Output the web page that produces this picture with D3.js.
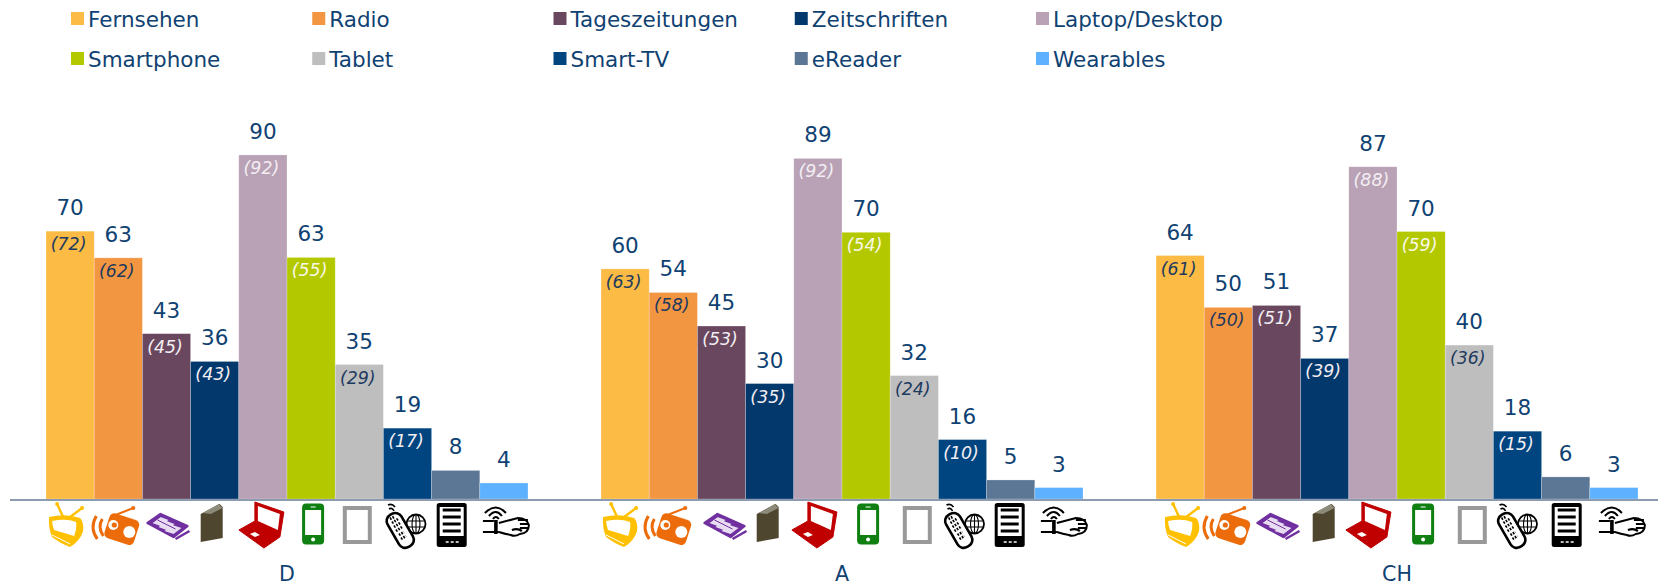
<!DOCTYPE html>
<html><head><meta charset="utf-8">
<script src="https://cdnjs.cloudflare.com/ajax/libs/d3/7.8.5/d3.min.js"></script>
<style>html,body{margin:0;padding:0;background:#fff;overflow:hidden}svg{display:block}text{font-family:"DejaVu Sans",sans-serif}</style>
</head><body><div id="c"></div>
<script>
const media = ["Fernsehen","Radio","Tageszeitungen","Zeitschriften","Laptop/Desktop","Smartphone","Tablet","Smart-TV","eReader","Wearables"];
const colors = ["#fbbb45","#f39642","#69475e","#02386b","#b9a1b6","#b4c800","#bebebe","#004580","#5c7695","#5eb1ff"];
const countries = ["D","A","CH"];
const valuesD  = [70.3,63.3,43.4,36.1,90.3,63.4,35.3,18.6,7.5,4.2];
const valuesA  = [60.4,54.2,45.4,30.3,89.4,70.0,32.4,15.6,5.0,3.0];
const valuesCH = [63.9,50.3,50.8,36.9,87.2,70.2,40.4,17.8,5.8,3.0];
const previousD  = [72,62,45,43,92,55,29,17,null,null];
const previousA  = [63,58,53,35,92,54,24,10,null,null];
const previousCH = [61,50,51,39,88,59,36,15,null,null];
const previousInk = ["#1d3a5f","#1d3a5f","#f3eef2","#f3eef2","#f3eef2","#f8f8e8","#1d3a5f","#f3eef2",null,null];

const W=1658,H=586,baseY=499,unit=3.81;
const svg=d3.select("#c").append("svg").attr("width",W).attr("height",H);
const ink="#0f4272";

// Legend
const legendX=d3.scalePoint().domain(d3.range(5)).range([71,1036]);
const legend=svg.append("g").selectAll("g").data(media).join("g")
  .attr("transform",(d,i)=>`translate(${legendX(i%5)},${i<5?12:52})`);
legend.append("rect").attr("width",13).attr("height",13).attr("fill",(d,i)=>colors[i]);
legend.append("text").attr("x",17).attr("y",14.5).attr("font-size",21.5).attr("fill",ink).text(d=>d);

// Scales
const y=d3.scaleLinear().domain([0,100]).range([baseY,baseY-100*unit]);
const groupX=d3.scalePoint().domain(countries).range([46,1156]);
const barX=d3.scaleBand().domain(media).range([0,482]);
const groups=[valuesD,valuesA,valuesCH].map((v,k)=>({c:countries[k],v,p:[previousD,previousA,previousCH][k]}));

const g=svg.selectAll("g.grp").data(groups).join("g").attr("class","grp")
  .attr("transform",d=>`translate(${groupX(d.c)},0)`);
const row=d=>media.map((m,i)=>({m,i,v:d.v[i],p:d.p[i]}));
g.selectAll("rect").data(row).join("rect")
  .attr("x",d=>barX(d.m)).attr("y",d=>y(d.v)).attr("width",barX.bandwidth()).attr("height",d=>baseY-y(d.v))
  .attr("fill",d=>colors[d.i]).attr("stroke","#fff").attr("stroke-opacity",.35).attr("stroke-width",.7);
g.selectAll("text.v").data(row).join("text").attr("class","v")
  .attr("x",d=>barX(d.m)+barX.bandwidth()/2).attr("y",d=>y(d.v)-16).attr("text-anchor","middle")
  .attr("font-size",21.5).attr("fill",ink).text(d=>Math.round(d.v));
g.selectAll("text.p").data(d=>row(d).filter(r=>r.p!=null)).join("text").attr("class","p")
  .attr("x",d=>barX(d.m)+barX.bandwidth()/2-1.5).attr("y",d=>y(d.v)+19).attr("text-anchor","middle")
  .attr("font-size",17.4).attr("font-style","italic").attr("fill",d=>previousInk[d.i]).text(d=>`(${d.p})`);

// Baseline
svg.append("rect").attr("x",10).attr("y",baseY).attr("width",W-10).attr("height",2).attr("fill","#8d9bb0");

// Group labels
g.append("text").attr("x",241).attr("y",581).attr("text-anchor","middle").attr("font-size",20.6).attr("fill",ink).text(d=>d.c);

// Pictograms (glyph art in a local frame centred on the icon)
const glyphs=[
 `<g fill="#ffc000"><path d="M-3,-8L-9,-21M4,-8L16,-17" stroke="#ffc000" stroke-width="2.4" fill="none"/><circle cx="-9" cy="-21" r="2"/><circle cx="16" cy="-17" r="2"/>
  <path d="M-17,-8Q0,-12 14,-7Q18,-3 17,6Q14,16 4,22Q-5,19 -14,12Q-18,3 -17,-8Z"/><path fill="#fff" d="M-14,-4Q0,-7 10,-3Q11,3 8,11L-12,5Q-14,0 -14,-4Z"/><path d="M-14,10L4,19" stroke="#fff" stroke-width="1" fill="none"/></g>`,
 `<g><path d="M-13,-6Q-18,2 -12,11M-19,-9Q-26,3 -18,14" stroke="#ec6c0c" stroke-width="3" fill="none"/><path d="M-5,-8L18,-17" stroke="#ec6c0c" stroke-width="2"/><circle cx="18" cy="-17" r="2" fill="#ec6c0c"/>
  <rect x="-9" y="-9" width="31" height="26" rx="5" transform="rotate(18 6 4)" fill="#ec6c0c"/><circle cx="-2" cy="0" r="5" fill="#fff"/><circle cx="14" cy="7" r="6" fill="#fff"/><circle cx="-1" cy="0" r="2.6" fill="#ec6c0c"/></g>`,
 `<g><path d="M8,14L22,6" stroke="#7030a0" stroke-width="2.4" fill="none"/><path d="M-20,-2L-7,-11L20,1L6,12Z" fill="#7030a0" stroke="#7030a0" stroke-width="2.4" stroke-linejoin="round"/>
  <path d="M-15,-2L-7,-8L1,-5L-7,1ZM-9,2L-1,-4L7,-1L-1,5ZM-3,6L5,0L14,3L6,9Z" fill="#e8dcf2"/><path d="M-2,-9L15,-1M-10,-5L8,4M-6,-9L-16,-2" stroke="#7030a0" stroke-width="1"/></g>`,
 `<g><path d="M-11,-9L8,-19L11,-16L11,15L-11,19Z" fill="#4f4630"/><path d="M-9,-10L7,-19L11,-15L-1,-9Z" fill="#8c8a78"/></g>`,
 `<g fill="#c00000"><path d="M-6,-23L23,-13L19,12L3,23L-22,5L-6,-4Z" stroke="#c00000" stroke-width="1" stroke-linejoin="round"/><path fill="#fff" d="M-3,-19L19,-11L17,5L-3,-4Z"/><path fill="#fff" d="M-11,9L-6,7L-1,10L-6,12Z"/></g>`,
 `<g><rect x="-11" y="-20.5" width="22" height="41" rx="4" fill="#0f7f12"/><rect x="-8" y="-14" width="16" height="25" fill="#fff"/><circle cy="15.5" r="2" fill="#fff"/><rect x="-2.5" y="-17.5" width="5" height="1" fill="#fff"/></g>`,
 `<rect x="-12.5" y="-17" width="25" height="34" fill="#fff" stroke="#999" stroke-width="4"/>`,
 `<g fill="none" stroke="#000"><path d="M-17,-20Q-13,-22 -10,-18M-16,-16Q-13,-18 -11,-14" stroke-width="1.6"/>
  <circle cx="11" cy="-1" r="9.5" fill="#fff" stroke-width="1.8"/><ellipse cx="11" cy="-1" rx="4" ry="9.5" stroke-width="1.1"/><path d="M2,-4H20M2,2H20M11,-10V8" stroke-width="1.1"/>
  <rect x="-13" y="-13" width="16" height="37" rx="7" transform="rotate(-30 -5 5)" fill="#fff" stroke-width="2.6"/>
  <path d="M-15,-6L-11,-8M-13,-2L-7,-6M-11,2L-5,-2M-9,6L-3,2M-6,10L-1,7M-4,14L1,11" stroke-width="2.6" stroke-dasharray="1.6 1.2"/></g>`,
 `<g><rect x="-15" y="-22" width="30" height="44" rx="2.5" fill="#000"/><rect x="-12" y="-18" width="24" height="29" fill="#fff"/><path d="M-9,-15H9M-9,-8H9M-9,-1H9M-9,6H9" stroke="#000" stroke-width="3"/><path d="M-6,17H-3M-1,17H2M4,17H7" stroke="#fff" stroke-width="1.6"/></g>`,
 `<g fill="none" stroke="#000"><path d="M-21,-8Q-10,-19 0,-8M-17,-5Q-10,-13 -4,-5M-13,-2Q-10,-6 -7,-2" stroke-width="2"/>
  <path d="M-23,0H-12M-23,11H-7" stroke-width="2.2"/><path d="M-10,-1V13" stroke-width="3.6"/><path d="M-7,2L12,-3Q21,-3 23,4Q23,12 14,13Q9,16 5,14Q-1,13 -7,11" stroke-width="2"/>
  <path d="M12,-1H22M14,3H23M14,7H23M6,9Q12,7 16,10" stroke-width="2.2"/></g>`
];
const iconNudgeX={D:[-4,-3,1,-3,-2,2,-2,-2.5,-4,2],A:[-5,-6,3,-2,-4,2,3,1,-1,5],CH:[2,-2,1,-1,-5,2,3,-1,1,8]};
const iconCy=[525,525,525,523,525,524,525,525,525,521];
g.selectAll("g.icon").data(d=>media.map((m,i)=>({m,i,c:d.c}))).join("g").attr("class","icon")
  .attr("transform",d=>`translate(${barX(d.m)+barX.bandwidth()/2+iconNudgeX[d.c][d.i]},${iconCy[d.i]})`)
  .html(d=>glyphs[d.i]);
</script></body></html>
